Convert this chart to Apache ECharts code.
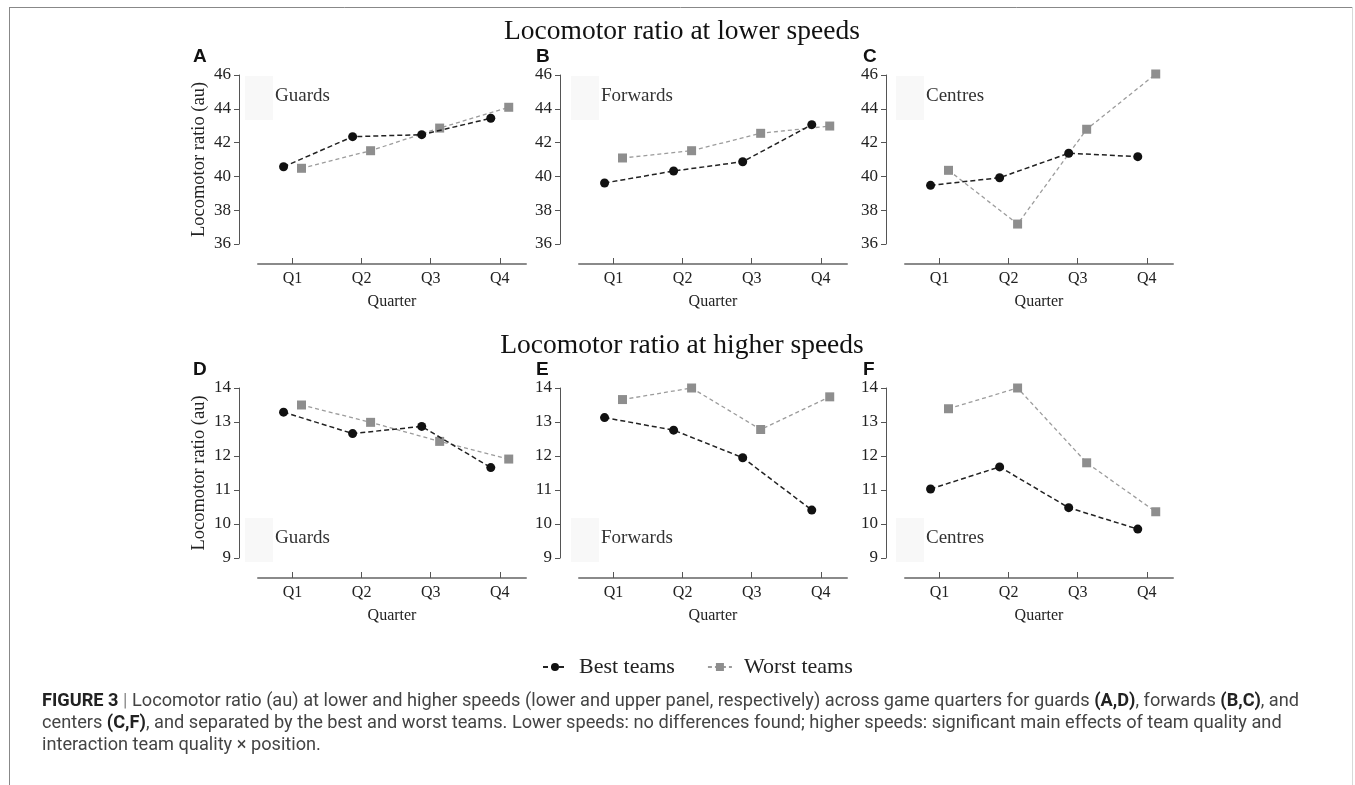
<!DOCTYPE html>
<html>
<head>
<meta charset="utf-8">
<title>Locomotor ratio</title>
<script src="https://cdn.jsdelivr.net/npm/echarts@6.0.0/dist/echarts.min.js"></script>
<style>
  html, body { margin: 0; padding: 0; background: #fff; }
  #chart { width: 1355px; height: 785px; }
</style>
</head>
<body>
<div id="chart"></div>
<script>
// categories and axis ranges
const quarters = ['Q1', 'Q2', 'Q3', 'Q4'];
const positions = ['Guards', 'Forwards', 'Centres'];
const lowRange = [36, 46];   // y ticks 36..46 step 2
const lowStep = 2;
const highRange = [9, 14];   // y ticks 9..14 step 1
const highStep = 1;

// lower speeds (A-C)
const guardsLowBest = [40.57, 42.35, 42.47, 43.44];
const guardsLowWorst = [40.48, 41.52, 42.86, 44.09];
const forwardsLowBest = [39.61, 40.32, 40.87, 43.06];
const forwardsLowWorst = [41.09, 41.52, 42.55, 42.98];
const centresLowBest = [39.47, 39.92, 41.37, 41.17];
const centresLowWorst = [40.36, 37.18, 42.79, 46.06];

// higher speeds (D-F)
const guardsHighBest = [13.29, 12.66, 12.87, 11.66];
const guardsHighWorst = [13.50, 12.99, 12.43, 11.91];
const forwardsHighBest = [13.13, 12.76, 11.95, 10.41];
const forwardsHighWorst = [13.66, 14.00, 12.78, 13.74];
const centresHighBest = [11.03, 11.68, 10.48, 9.85];
const centresHighWorst = [13.39, 14.00, 11.80, 10.36];

const SERIF = "'Liberation Serif', 'DejaVu Serif', serif";
const SANS = "'Liberation Sans', Arial, sans-serif";
const dodge = 0.13;

// layout
const colLeft = [258, 579, 905];
const gridWidth = 268;
const rowTop = [75, 388];
const rowHeight = [169, 170];
const letterX = [193, 536, 863];
const labelX = [275, 601, 926];

const panels = [
  { letter: 'A', row: 0, col: 0, best: guardsLowBest, worst: guardsLowWorst },
  { letter: 'B', row: 0, col: 1, best: forwardsLowBest, worst: forwardsLowWorst },
  { letter: 'C', row: 0, col: 2, best: centresLowBest, worst: centresLowWorst },
  { letter: 'D', row: 1, col: 0, best: guardsHighBest, worst: guardsHighWorst },
  { letter: 'E', row: 1, col: 1, best: forwardsHighBest, worst: forwardsHighWorst },
  { letter: 'F', row: 1, col: 2, best: centresHighBest, worst: centresHighWorst }
];

let grid = [], xAxis = [], yAxis = [], series = [], graphic = [];

panels.forEach((p, i) => {
  const range = p.row === 0 ? lowRange : highRange;
  grid.push({ left: colLeft[p.col], top: rowTop[p.row], width: gridWidth, height: rowHeight[p.row] });

  xAxis.push({
    gridIndex: i,
    type: 'value',
    min: 0.5,
    max: 4.38,
    offset: 20,
    name: 'Quarter',
    nameLocation: 'middle',
    nameGap: 30,
    nameTextStyle: { fontFamily: SERIF, fontSize: 16, color: '#222' },
    axisLine: { show: true, lineStyle: { color: '#8a8a8a', width: 2 } },
    axisTick: { show: true, inside: true, length: 6, customValues: [1, 2, 3, 4], lineStyle: { color: '#555' } },
    axisLabel: {
      customValues: [1, 2, 3, 4],
      formatter: v => quarters[Math.round(v) - 1] || '',
      fontFamily: SERIF, fontSize: 16, color: '#222', margin: 7
    },
    splitLine: { show: false }
  });

  yAxis.push({
    gridIndex: i,
    type: 'value',
    min: range[0],
    max: range[1],
    interval: p.row === 0 ? lowStep : highStep,
    offset: 19,
    name: p.col === 0 ? 'Locomotor ratio (au)' : '',
    nameLocation: 'middle',
    nameGap: 30,
    nameTextStyle: { fontFamily: SERIF, fontSize: 18.5, color: '#222' },
    axisLine: { show: true, lineStyle: { color: '#555', width: 1 } },
    axisTick: { show: true, length: 5, lineStyle: { color: '#555' } },
    axisLabel: { fontFamily: SERIF, fontSize: 17, color: '#222', margin: 8 },
    splitLine: { show: false }
  });

  series.push({
    name: 'Best teams',
    type: 'line',
    xAxisIndex: i,
    yAxisIndex: i,
    data: p.best.map((v, k) => [k + 1 - dodge, v]),
    symbol: 'circle',
    symbolSize: 9,
    clip: false,
    itemStyle: { color: '#111' },
    lineStyle: { color: '#222', width: 1.5, type: [5, 3] },
    z: 3
  });
  series.push({
    name: 'Worst teams',
    type: 'line',
    xAxisIndex: i,
    yAxisIndex: i,
    data: p.worst.map((v, k) => [k + 1 + dodge, v]),
    symbol: 'rect',
    symbolSize: 9,
    clip: false,
    itemStyle: { color: '#8e8e8e' },
    lineStyle: { color: '#9c9c9c', width: 1.3, type: [4, 3] },
    z: 2
  });

  // panel letter
  graphic.push({
    type: 'text', left: letterX[p.col], top: rowTop[p.row] - 28,
    style: { text: p.letter, font: 'bold 19px ' + SANS, fill: '#111' }
  });
  // position label with faint box
  const labelCy = p.row === 0 ? rowTop[0] + 21 : rowTop[1] + 150;
  graphic.push({
    type: 'rect',
    shape: { x: labelX[p.col] - 30, y: labelCy - 20, width: 28, height: 44 },
    style: { fill: '#f8f8f8' },
    z: 0
  });
  graphic.push({
    type: 'text', x: labelX[p.col], y: labelCy,
    style: { text: positions[p.col], font: '19px ' + SERIF, fill: '#333', verticalAlign: 'middle' }
  });
});

// row titles
graphic.push({
  type: 'text', x: 682, y: 32,
  style: { text: 'Locomotor ratio at lower speeds', font: '27.5px ' + SERIF, fill: '#111', align: 'center', verticalAlign: 'middle' }
});
graphic.push({
  type: 'text', x: 682, y: 346,
  style: { text: 'Locomotor ratio at higher speeds', font: '27.5px ' + SERIF, fill: '#111', align: 'center', verticalAlign: 'middle' }
});

// frame
graphic.push({ type: 'line', shape: { x1: 9, y1: 7.5, x2: 1352, y2: 7.5 }, style: { stroke: '#888', lineWidth: 1 } });
graphic.push({ type: 'line', shape: { x1: 9.5, y1: 7, x2: 9.5, y2: 785 }, style: { stroke: '#888', lineWidth: 1 } });
graphic.push({ type: 'line', shape: { x1: 1352.5, y1: 7, x2: 1352.5, y2: 785 }, style: { stroke: '#d8d8d8', lineWidth: 1 } });

// caption
const capSize = 18.2;
const capRich = {
  b: { fontFamily: 'Roboto', fontWeight: 'bold', fontSize: capSize, fill: '#222' },
  bar: { fontFamily: 'Roboto', fontSize: capSize, fill: '#888' }
};
const capLines = [
  '{b|FIGURE 3} {bar||} Locomotor ratio (au) at lower and higher speeds (lower and upper panel, respectively) across game quarters for guards {b|(A,D)}, forwards {b|(B,C)}, and',
  'centers {b|(C,F)}, and separated by the best and worst teams. Lower speeds: no differences found; higher speeds: significant main effects of team quality and',
  'interaction team quality \u00d7 position.'
];
capLines.forEach((t, k) => {
  graphic.push({
    type: 'text', x: 42, y: 701 + k * 22,
    style: { text: t, rich: capRich, fontFamily: 'Roboto', fontSize: capSize, fill: '#444', verticalAlign: 'middle' }
  });
});

const chart = echarts.init(document.getElementById('chart'));
chart.setOption({
  animation: false,
  backgroundColor: '#fff',
  grid,
  xAxis,
  yAxis,
  series,
  graphic,
  legend: {
    left: 542,
    top: 656,
    padding: 0,
    itemWidth: 24,
    itemHeight: 10,
    itemGap: 32,
    selectedMode: false,
    data: ['Best teams', 'Worst teams'],
    textStyle: { fontFamily: SERIF, fontSize: 22, color: '#222', padding: [0, 0, 0, 7] }
  }
});
window.addEventListener('resize', () => chart.resize());
</script>
</body>
</html>
